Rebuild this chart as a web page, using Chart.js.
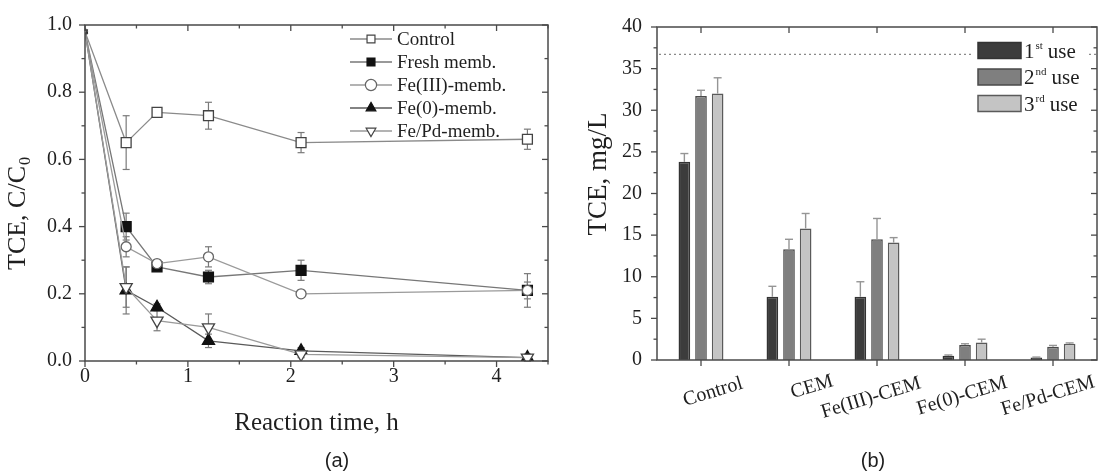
<!DOCTYPE html>
<html>
<head>
<meta charset="utf-8">
<script src="https://cdn.jsdelivr.net/npm/chart.js@4.4.0/dist/chart.umd.min.js"></script>
<style>
  body { margin: 0; background: #fff; width: 1108px; height: 473px; overflow: hidden; position: relative; }
  #boxA { position: absolute; left: 0; top: 0; width: 560px; height: 473px; }
  #boxB { position: absolute; left: 560px; top: 0; width: 548px; height: 473px; }
</style>
</head>
<body>
<div id="boxA"><canvas id="chartA" width="560" height="473"></canvas></div>
<div id="boxB"><canvas id="chartB" width="548" height="473"></canvas></div>
<script>
/* --------------- Data (a): TCE C/C0 vs reaction time --------------------- */
const timeH = [0, 0.4, 0.7, 1.2, 2.1, 4.3];
const controlC = [0.98, 0.65, 0.74, 0.73, 0.65, 0.66];
const controlErr = [0, 0.08, 0.01, 0.04, 0.03, 0.03];
const freshC = [0.98, 0.40, 0.28, 0.25, 0.27, 0.21];
const freshErr = [0, 0.04, 0.01, 0.02, 0.03, 0.05];
const fe3C = [0.98, 0.34, 0.29, 0.31, 0.20, 0.21];
const fe3Err = [0, 0.03, 0.01, 0.03, 0.01, 0.025];
const fe0C = [0.98, 0.21, 0.16, 0.06, 0.03, 0.01];
const fe0Err = [0, 0.07, 0.01, 0.02, 0.01, 0.01];
const fePdC = [0.98, 0.22, 0.12, 0.10, 0.02, 0.01];
const fePdErr = [0, 0.06, 0.03, 0.04, 0.01, 0.01];
const seriesNames = ['Control', 'Fresh memb.', 'Fe(III)-memb.', 'Fe(0)-memb.', 'Fe/Pd-memb.'];

/* --------------- Data (b): TCE mg/L per membrane and use --------------------- */
const membranes = ['Control', 'CEM', 'Fe(III)-CEM', 'Fe(0)-CEM', 'Fe/Pd-CEM'];
const use1 = [23.8, 7.6, 7.6, 0.5, 0.3];
const use1Err = [1.0, 1.25, 1.8, 0.1, 0.05];
const use2 = [31.7, 13.3, 14.5, 1.8, 1.6];
const use2Err = [0.7, 1.2, 2.5, 0.15, 0.15];
const use3 = [32.0, 15.8, 14.1, 2.1, 1.95];
const use3Err = [1.9, 1.8, 0.6, 0.4, 0.1];
const useNames = [['1', 'st'], ['2', 'nd'], ['3', 'rd']];
const refLevel = 36.7;

/* --------------- Look --------------------- */
const serif = "'Liberation Serif', 'Times New Roman', serif";
const sans = "'Liberation Sans', Arial, sans-serif";
const ink = '#1f1f1f';
const frameColor = '#4a4a4a';
// where each slanted membrane label sits: [shift from tick, centre y]
const labelNudge = [[12, 392], [23, 387], [-6, 398], [-3, 396], [-5, 396]];

const pts = (ys) => timeH.map((t, i) => ({ x: t, y: ys[i] }));

function marker(ctx, style, rot, r, x, y) {
  ctx.beginPath();
  if (style === 'rect') {
    const s = r * Math.SQRT1_2;
    ctx.rect(x - s, y - s, 2 * s, 2 * s);
  } else if (style === 'circle') {
    ctx.arc(x, y, r, 0, Math.PI * 2);
  } else {
    let a = rot * Math.PI / 180;
    ctx.moveTo(x + Math.sin(a) * r, y - Math.cos(a) * r);
    a += Math.PI * 2 / 3;
    ctx.lineTo(x + Math.sin(a) * r, y - Math.cos(a) * r);
    a += Math.PI * 2 / 3;
    ctx.lineTo(x + Math.sin(a) * r, y - Math.cos(a) * r);
    ctx.closePath();
  }
  ctx.fill();
  ctx.stroke();
}

function seg(ctx, x1, y1, x2, y2) {
  ctx.beginPath();
  ctx.moveTo(x1, y1);
  ctx.lineTo(x2, y2);
  ctx.stroke();
}

/* --------------- Box with Origin style ticks --------------------- */
const frame = {
  id: 'frame',
  afterDraw(chart, args, o) {
    const { ctx, chartArea: a } = chart;
    const x = chart.scales.x, y = chart.scales.y;
    ctx.save();
    ctx.strokeStyle = frameColor;
    ctx.lineWidth = 1.5;
    ctx.strokeRect(a.left, a.top, a.right - a.left, a.bottom - a.top);
    ctx.lineWidth = 1.3;
    const n = Math.round((y.max - y.min) / o.yMinor);
    for (let k = 0; k <= n; k++) {
      const v = y.min + k * o.yMinor;
      const len = k % o.yEvery === 0 ? 6 : 3.5;
      const py = y.getPixelForValue(v);
      seg(ctx, a.left - len, py, a.left, py);
      seg(ctx, a.right - len, py, a.right, py);
    }
    if (o.category) {
      chart.data.labels.forEach((_, i) => {
        const px = x.getPixelForValue(i);
        seg(ctx, px, a.bottom, px, a.bottom + 6);
        seg(ctx, px, a.top, px, a.top + 6);
      });
    } else {
      const m = Math.round((x.max - x.min) / o.xMinor);
      for (let k = 0; k <= m; k++) {
        const v = x.min + k * o.xMinor;
        const len = k % o.xEvery === 0 ? 6 : 3.5;
        const px = x.getPixelForValue(v);
        seg(ctx, px, a.bottom, px, a.bottom + len);
        seg(ctx, px, a.top, px, a.top + len);
      }
    }
    ctx.restore();
  }
};

/* --------------- Chart (a) --------------------- */
const errsA = [controlErr, freshErr, fe3Err, fe0Err, fePdErr];

const errorBarsA = {
  id: 'errorBarsA',
  beforeDatasetsDraw(chart) {
    const { ctx } = chart;
    const x = chart.scales.x, y = chart.scales.y;
    ctx.save();
    ctx.strokeStyle = '#7a7a7a';
    ctx.lineWidth = 1.2;
    chart.data.datasets.forEach((ds, i) => {
      ds.data.forEach((p, j) => {
        const e = errsA[i][j];
        if (!e) return;
        const px = x.getPixelForValue(p.x);
        const t = y.getPixelForValue(p.y + e), b = y.getPixelForValue(p.y - e);
        seg(ctx, px, t, px, b);
        seg(ctx, px - 3.5, t, px + 3.5, t);
        seg(ctx, px - 3.5, b, px + 3.5, b);
      });
    });
    ctx.restore();
  }
};

const decorA = {
  id: 'decorA',
  afterDraw(chart) {
    const { ctx, chartArea: a } = chart;
    ctx.save();
    // legend
    chart.data.datasets.forEach((ds, i) => {
      const ly = a.top + 14 + i * 23;
      ctx.strokeStyle = ds.borderColor;
      ctx.lineWidth = 1.3;
      seg(ctx, a.right - 198, ly, a.right - 156, ly);
      ctx.fillStyle = ds.pointBackgroundColor;
      ctx.strokeStyle = ds.pointBorderColor;
      ctx.lineWidth = 1.2;
      marker(ctx, ds.pointStyle, ds.pointRotation || 0, 5.6, a.right - 177, ly);
      ctx.fillStyle = ink;
      ctx.font = '19px ' + serif;
      ctx.textAlign = 'left';
      ctx.textBaseline = 'middle';
      ctx.fillText(ds.label, a.right - 151, ly + 1);
    });
    // axis titles
    ctx.fillStyle = ink;
    ctx.font = '25px ' + serif;
    ctx.textAlign = 'center';
    ctx.textBaseline = 'alphabetic';
    ctx.fillText('Reaction time, h', (a.left + a.right) / 2, 430);
    ctx.save();
    ctx.translate(25, 214);
    ctx.rotate(-Math.PI / 2);
    ctx.font = '26px ' + serif;
    const w1 = ctx.measureText('TCE, C/C').width;
    ctx.font = '16px ' + serif;
    const w2 = ctx.measureText('0').width;
    const s = -(w1 + w2) / 2;
    ctx.textAlign = 'left';
    ctx.font = '26px ' + serif;
    ctx.fillText('TCE, C/C', s, 0);
    ctx.font = '16px ' + serif;
    ctx.fillText('0', s + w1 + 1, 5);
    ctx.restore();
    ctx.font = '20px ' + sans;
    ctx.textBaseline = 'middle';
    ctx.fillText('(a)', 337, 461);
    ctx.restore();
  }
};

const tickFont = { family: serif, size: 20 };
// the t = 0 start point is mostly hidden behind the axis in the original
const radiusA = (r) => (c) => (c.dataIndex === 0 ? 2.5 : r);

new Chart(document.getElementById('chartA'), {
  type: 'line',
  plugins: [errorBarsA, frame, decorA],
  data: {
    datasets: [
      { label: seriesNames[0], data: pts(controlC), order: 5, borderColor: '#8a8a8a', pointStyle: 'rect',
        pointRadius: radiusA(7), pointBackgroundColor: '#fff', pointBorderColor: '#444' },
      { label: seriesNames[1], data: pts(freshC), order: 4, borderColor: '#777', pointStyle: 'rect',
        pointRadius: radiusA(7), pointBackgroundColor: '#111', pointBorderColor: '#111' },
      { label: seriesNames[2], data: pts(fe3C), order: 3, borderColor: '#9a9a9a', pointStyle: 'circle',
        pointRadius: radiusA(5), pointBackgroundColor: '#fff', pointBorderColor: '#666' },
      { label: seriesNames[3], data: pts(fe0C), order: 2, borderColor: '#5a5a5a', pointStyle: 'triangle',
        pointRadius: radiusA(7), pointBackgroundColor: '#111', pointBorderColor: '#111' },
      { label: seriesNames[4], data: pts(fePdC), order: 1, borderColor: '#9a9a9a', pointStyle: 'triangle',
        pointRotation: 180, pointRadius: radiusA(7), pointBackgroundColor: '#fff', pointBorderColor: '#444' },
    ],
  },
  options: {
    responsive: false,
    animation: false,
    layout: { padding: { top: 21, right: 12, left: 0, bottom: 0 } },
    elements: { line: { borderWidth: 1.3, tension: 0 }, point: { borderWidth: 1.3 } },
    plugins: {
      legend: { display: false },
      tooltip: { enabled: false },
      frame: { xMinor: 0.5, xEvery: 2, yMinor: 0.1, yEvery: 2 },
    },
    scales: {
      x: {
        type: 'linear', min: 0, max: 4.5,
        grid: { display: false, drawTicks: false }, border: { display: false },
        ticks: { stepSize: 1, includeBounds: false, padding: 4, color: ink, font: tickFont, maxRotation: 0 },
        afterFit: (s) => { s.height = 112; },
      },
      y: {
        min: 0, max: 1,
        grid: { display: false, drawTicks: false }, border: { display: false },
        ticks: { stepSize: 0.2, padding: 13, color: ink, font: tickFont, callback: (v) => v.toFixed(1) },
        afterFit: (s) => { s.width = 85; },
      },
    },
  },
});

/* --------------- Chart (b) --------------------- */
const errsB = [use1Err, use2Err, use3Err];

const refLine = {
  id: 'refLine',
  beforeDatasetsDraw(chart) {
    const { ctx, chartArea: a } = chart;
    const py = chart.scales.y.getPixelForValue(refLevel);
    ctx.save();
    ctx.strokeStyle = '#8a8a8a';
    ctx.lineWidth = 1.2;
    ctx.setLineDash([2, 3]);
    seg(ctx, a.left + 2, py, a.right, py);
    ctx.restore();
  }
};

const errorBarsB = {
  id: 'errorBarsB',
  afterDatasetsDraw(chart) {
    const { ctx } = chart;
    const y = chart.scales.y;
    ctx.save();
    ctx.strokeStyle = '#959595';
    ctx.lineWidth = 1.4;
    chart.data.datasets.forEach((ds, i) => {
      chart.getDatasetMeta(i).data.forEach((bar, j) => {
        const px = bar.x;
        const b = y.getPixelForValue(ds.data[j]);
        const t = y.getPixelForValue(ds.data[j] + errsB[i][j]);
        seg(ctx, px, b, px, t);
        seg(ctx, px - 4, t, px + 4, t);
      });
    });
    ctx.restore();
  }
};

const decorB = {
  id: 'decorB',
  afterDraw(chart) {
    const { ctx, chartArea: a } = chart;
    const x = chart.scales.x;
    ctx.save();
    // legend
    ctx.fillStyle = '#fff';
    ctx.fillRect(a.right - 123, a.top + 10, 113, 94);
    chart.data.datasets.forEach((ds, i) => {
      const by = a.top + 15.5 + i * 26.5;
      ctx.fillStyle = ds.backgroundColor;
      ctx.strokeStyle = ds.borderColor;
      ctx.lineWidth = 1.5;
      ctx.fillRect(a.right - 119, by, 43, 16);
      ctx.strokeRect(a.right - 119, by, 43, 16);
      ctx.fillStyle = ink;
      ctx.textAlign = 'left';
      ctx.textBaseline = 'alphabetic';
      ctx.font = '21px ' + serif;
      const tx = a.right - 73;
      ctx.fillText(useNames[i][0], tx, by + 15);
      const w = ctx.measureText(useNames[i][0]).width;
      ctx.font = '11px ' + serif;
      ctx.fillText(useNames[i][1], tx + w + 1, by + 6);
      const w2 = ctx.measureText(useNames[i][1]).width;
      ctx.font = '21px ' + serif;
      ctx.fillText('use', tx + w + w2 + 6, by + 15);
    });
    // slanted membrane labels
    ctx.fillStyle = ink;
    ctx.font = '20px ' + serif;
    ctx.textAlign = 'center';
    ctx.textBaseline = 'middle';
    chart.data.labels.forEach((name, i) => {
      ctx.save();
      ctx.translate(x.getPixelForValue(i) + labelNudge[i][0], labelNudge[i][1]);
      ctx.rotate(-17 * Math.PI / 180);
      ctx.fillText(name, 0, 0);
      ctx.restore();
    });
    // y title
    ctx.save();
    ctx.translate(46, 174);
    ctx.rotate(-Math.PI / 2);
    ctx.font = '27px ' + serif;
    ctx.textBaseline = 'alphabetic';
    ctx.fillText('TCE, mg/L', 0, 0);
    ctx.restore();
    ctx.font = '20px ' + sans;
    ctx.fillText('(b)', 313, 461);
    ctx.restore();
  }
};

new Chart(document.getElementById('chartB'), {
  type: 'bar',
  plugins: [refLine, errorBarsB, frame, decorB],
  data: {
    labels: membranes,
    datasets: [
      { label: '1st use', data: use1, backgroundColor: '#3c3c3c', borderColor: '#333' },
      { label: '2nd use', data: use2, backgroundColor: '#7f7f7f', borderColor: '#4a4a4a' },
      { label: '3rd use', data: use3, backgroundColor: '#c4c4c4', borderColor: '#5a5a5a' },
    ],
  },
  options: {
    responsive: false,
    animation: false,
    layout: { padding: { top: 15, right: 11, left: 0, bottom: 0 } },
    datasets: { bar: { categoryPercentage: 0.567, barPercentage: 0.7, borderWidth: 1.5 } },
    plugins: {
      legend: { display: false },
      tooltip: { enabled: false },
      frame: { category: true, yMinor: 2.5, yEvery: 2 },
    },
    scales: {
      x: {
        grid: { display: false, drawTicks: false }, border: { display: false },
        ticks: { display: false },
        afterFit: (s) => { s.height = 113; },
      },
      y: {
        min: 0, max: 40,
        grid: { display: false, drawTicks: false }, border: { display: false },
        ticks: { stepSize: 5, padding: 15, color: ink, font: tickFont },
        afterFit: (s) => { s.width = 97; },
      },
    },
  },
});
</script>
</body>
</html>
